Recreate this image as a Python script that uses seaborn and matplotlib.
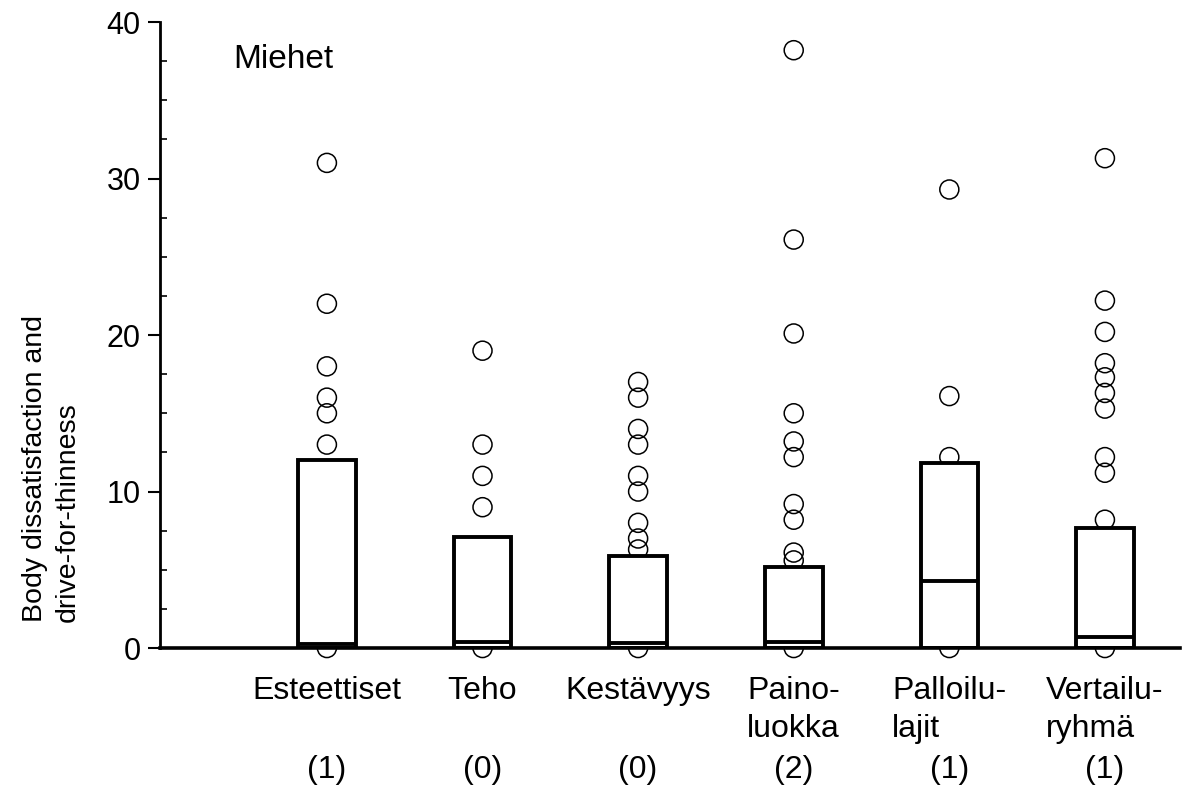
import numpy as np
import pandas as pd
import matplotlib.pyplot as plt
from matplotlib.ticker import MultipleLocator
import seaborn as sns

# group labels and number of missing cases
categories = ['Esteettiset', 'Teho', 'Kestävyys', 'Paino-\nluokka', 'Palloilu-\nlajit', 'Vertailu-\nryhmä']
counts = ['(1)', '(0)', '(0)', '(2)', '(1)', '(1)']

# box = 0 .. upper quartile, line = median
upper_q = [12.0, 7.1, 5.9, 5.2, 11.8, 7.7]
medians = [0.25, 0.4, 0.35, 0.4, 4.3, 0.7]

# individual values drawn as circles
esteettiset = [31, 22, 18, 16, 15, 13, 0]
teho = [19, 13, 11, 9, 0]
kestavyys = [17, 16, 14, 13, 11, 10, 8, 7, 6.3, 0]
painoluokka = [38.2, 26.1, 20.1, 15, 13.2, 12.2, 9.2, 8.2, 6.1, 5.6, 0]
palloilu = [29.3, 16.1, 12.2, 0]
vertailu = [31.3, 22.2, 20.2, 18.2, 17.3, 16.3, 15.3, 12.2, 11.2, 8.2, 0]

groups = [esteettiset, teho, kestavyys, painoluokka, palloilu, vertailu]
pts = pd.DataFrame({
    'group': [c for c, g in zip(categories, groups) for _ in g],
    'value': [v for g in groups for v in g],
})

sns.set_style('ticks')
plt.rcParams['font.family'] = ['Liberation Sans', 'DejaVu Sans']
plt.rcParams['text.color'] = 'black'
plt.rcParams['axes.edgecolor'] = 'black'

fig = plt.figure(figsize=(11.91, 7.9), dpi=100)
ax = fig.add_axes([0.1343, 0.1797, 0.8564, 0.7924])

# circles first, boxes (white filled) on top of them
sns.stripplot(data=pts, x='group', y='value', order=categories, jitter=False,
              marker='o', size=13.7, color='black', ax=ax, zorder=2)
for coll in ax.collections:
    coll.set_facecolor('none')
    coll.set_edgecolor('black')
    coll.set_linewidth(1.1)
    coll.set_clip_on(False)

sns.barplot(x=categories, y=upper_q, order=categories, color='white',
            edgecolor='black', linewidth=2.8, width=0.37, ax=ax, zorder=3)

pos = np.arange(len(categories))
ax.hlines(medians, pos - 0.185, pos + 0.185, color='black', linewidth=2.8, zorder=4)

ax.set_xlim(-1.073, 5.482)
ax.set_ylim(0, 40)
ax.set_yticks([0, 10, 20, 30, 40])
ax.yaxis.set_minor_locator(MultipleLocator(2.5))
ax.tick_params(axis='y', which='major', direction='out', length=9, width=1.5,
               labelsize=22, pad=5, colors='black')
ax.tick_params(axis='y', which='minor', direction='in', length=5, width=1.2, colors='black')
ax.tick_params(axis='x', length=0, labelsize=23, pad=20, colors='black')
for lbl in ax.get_xticklabels():
    lbl.set_multialignment('left')
    lbl.set_linespacing(1.35)

sns.despine(ax=ax)
ax.spines['bottom'].set_linewidth(2.6)
ax.spines['left'].set_linewidth(2.0)
ax.spines['bottom'].set_zorder(5)
ax.set_xlabel('')
ax.set_ylabel('')

for i, c in enumerate(counts):
    ax.text(pos[i], -0.195, c, transform=ax.get_xaxis_transform(),
            ha='center', va='center', fontsize=23)

ax.text(0.072, 0.965, 'Miehet', transform=ax.transAxes, fontsize=24, va='top')

fig.text(0.043, 0.213, 'Body dissatisfaction and\ndrive-for-thinness', rotation=90,
         ha='center', va='bottom', multialignment='left', fontsize=20.5,
         linespacing=1.35)

fig.savefig('out.png', dpi=100)
